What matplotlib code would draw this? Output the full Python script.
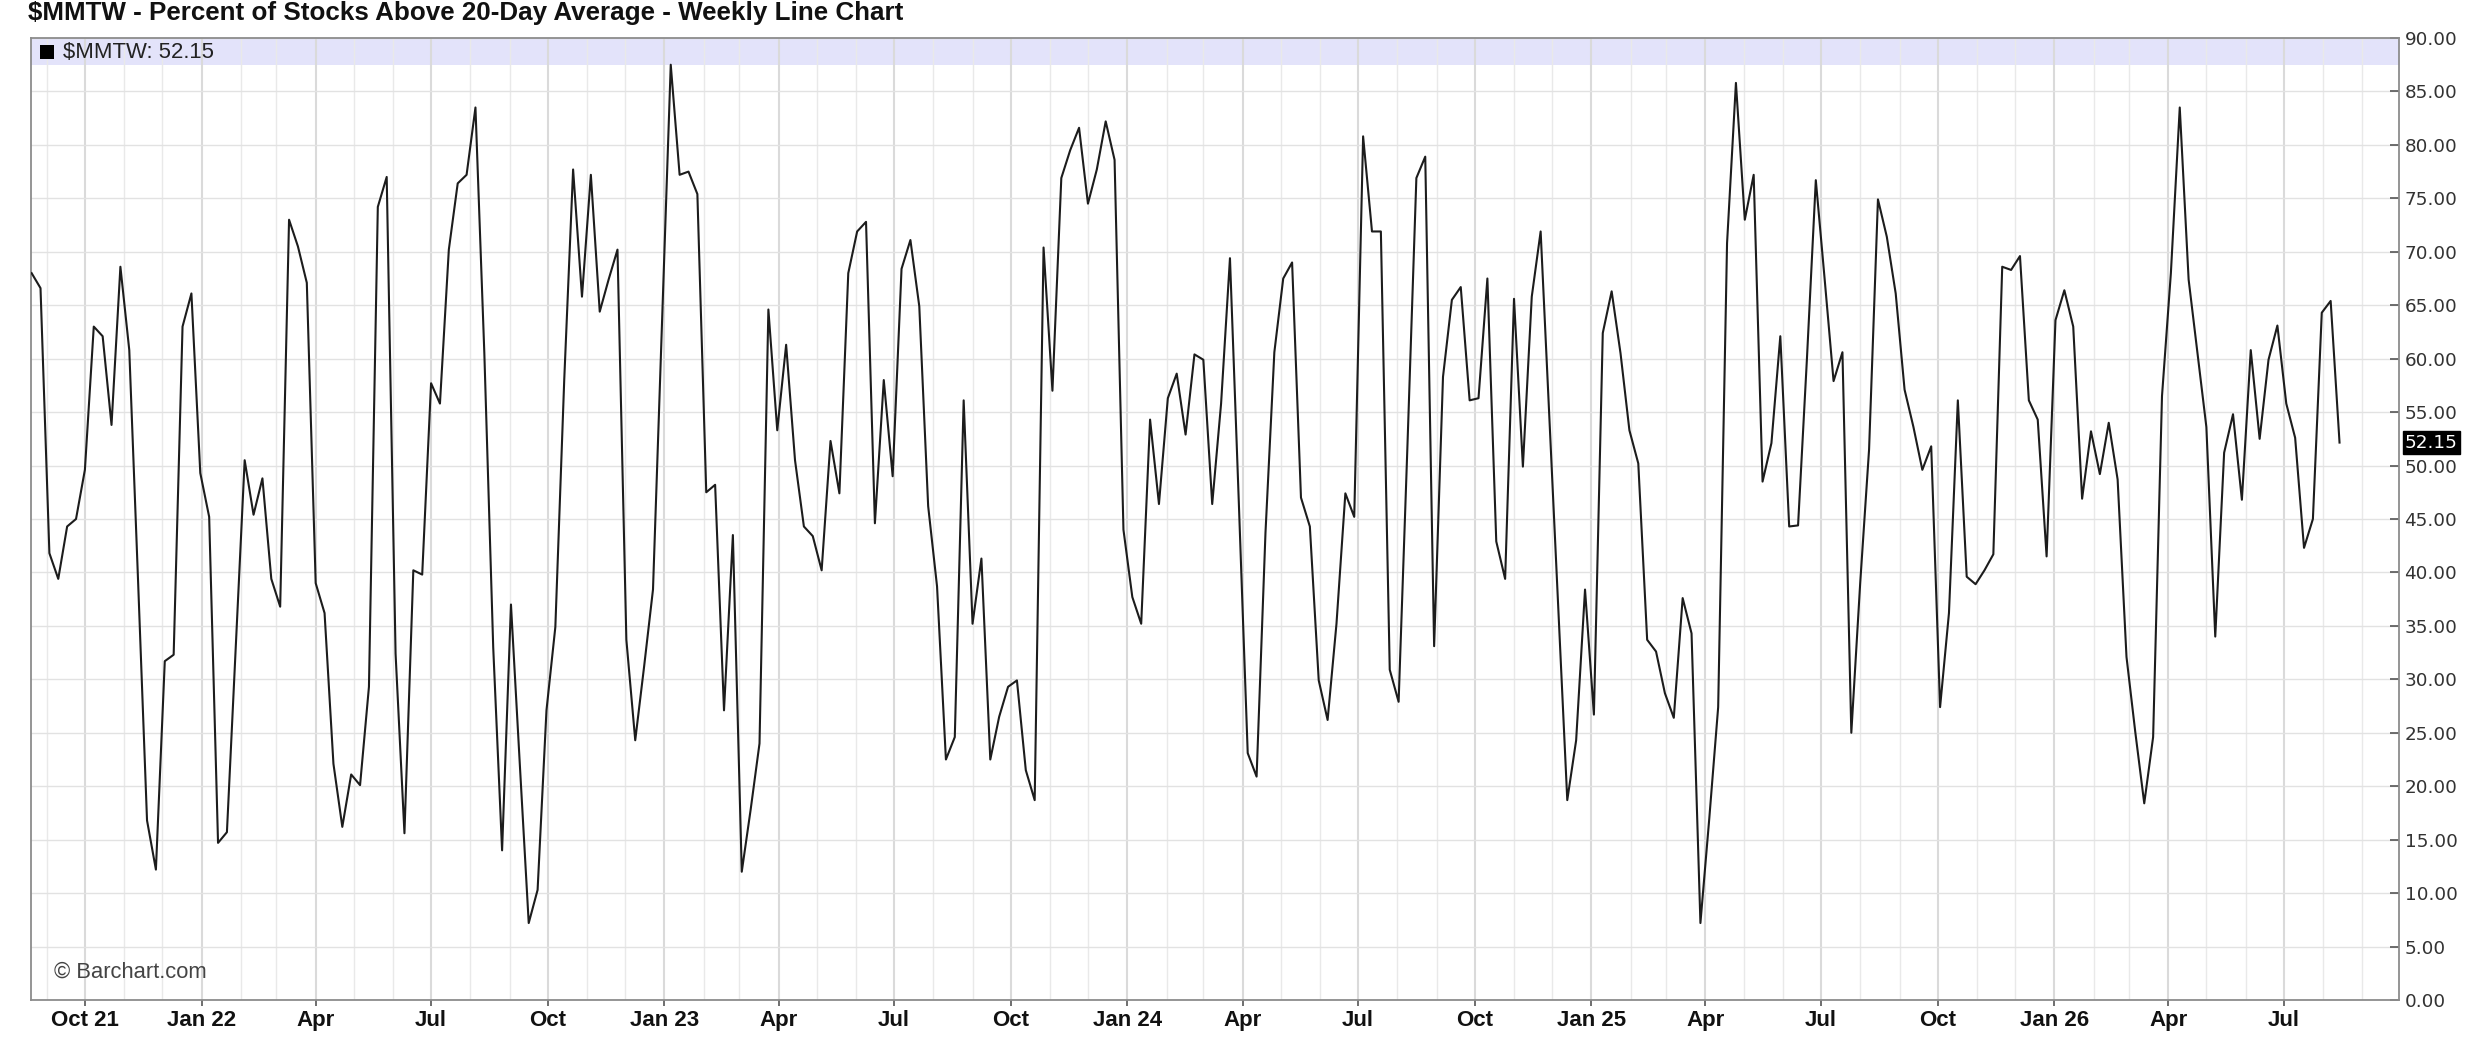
import matplotlib
matplotlib.use("Agg")
import matplotlib.pyplot as plt
import matplotlib.dates as mdates
from matplotlib.ticker import FixedLocator, FixedFormatter, FuncFormatter
from matplotlib.patches import Rectangle
import pandas as pd

# ---------------- data ----------------
symbol = "$MMTW"
title_text = "$MMTW - Percent of Stocks Above 20-Day Average - Weekly Line Chart"
start_date = "2021-08-20"  # first weekly bar

pct_values = [
    68.0, 66.6, 41.8, 39.4, 44.3, 45.0, 49.6, 63.0, 62.1, 53.8,
    68.6, 60.8, 39.0, 16.8, 12.2, 31.7, 32.3, 63.0, 66.1, 49.3,
    45.2, 14.7, 15.7, 33.0, 50.5, 45.4, 48.8, 39.4, 36.8, 73.0,
    70.5, 67.1, 39.0, 36.2, 22.1, 16.2, 21.1, 20.1, 29.3, 74.2,
    77.0, 32.4, 15.6, 40.2, 39.8, 57.7, 55.8, 70.2, 76.4, 77.2,
    83.5, 60.5, 33.0, 14.0, 37.0, 22.0, 7.2, 10.3, 27.1, 34.9,
    58.0, 77.7, 65.8, 77.2, 64.4, 67.4, 70.2, 33.7, 24.3, 31.2,
    38.4, 63.0, 87.5, 77.2, 77.5, 75.4, 47.5, 48.2, 27.1, 43.5,
    12.0, 17.8, 24.0, 64.6, 53.3, 61.3, 50.5, 44.3, 43.4, 40.2,
    52.3, 47.4, 68.0, 71.9, 72.8, 44.6, 58.0, 49.0, 68.4, 71.1,
    64.9, 46.2, 38.7, 22.5, 24.6, 56.1, 35.2, 41.3, 22.5, 26.5,
    29.3, 29.9, 21.5, 18.7, 70.4, 57.0, 76.9, 79.5, 81.6, 74.5,
    77.7, 82.2, 78.6, 44.0, 37.7, 35.2, 54.3, 46.4, 56.3, 58.6,
    52.9, 60.4, 59.9, 46.4, 55.8, 69.4, 46.5, 23.1, 20.9, 43.7,
    60.6, 67.5, 69.0, 47.0, 44.3, 29.9, 26.2, 35.2, 47.4, 45.2,
    80.8, 71.9, 71.9, 30.9, 27.9, 52.0, 76.9, 78.9, 33.1, 58.3,
    65.5, 66.7, 56.1, 56.3, 67.5, 42.9, 39.4, 65.6, 49.9, 65.8,
    71.9, 54.1, 36.4, 18.7, 24.3, 38.4, 26.7, 62.4, 66.3, 60.5,
    53.3, 50.2, 33.7, 32.6, 28.7, 26.4, 37.6, 34.3, 7.2, 17.0,
    27.4, 70.8, 85.8, 73.0, 77.2, 48.5, 52.1, 62.1, 44.3, 44.4,
    60.0, 76.7, 67.4, 57.9, 60.6, 25.0, 39.0, 51.5, 74.9, 71.4,
    66.1, 57.1, 53.6, 49.6, 51.8, 27.4, 36.2, 56.1, 39.6, 38.9,
    40.2, 41.7, 68.6, 68.3, 69.6, 56.1, 54.3, 41.5, 63.6, 66.4,
    63.0, 46.9, 53.2, 49.2, 54.0, 48.7, 32.1, 25.0, 18.4, 24.6,
    56.5, 68.0, 83.5, 67.4, 60.5, 53.6, 34.0, 51.2, 54.8, 46.8,
    60.8, 52.5, 59.9, 63.1, 55.8, 52.6, 42.3, 45.0, 64.3, 65.4,
    52.15,
]

tick_start = "2021-10-01"
tick_end = "2026-07-01"
tick_labels = ["Oct 21", "Jan 22", "Apr", "Jul", "Oct", "Jan 23", "Apr", "Jul",
               "Oct", "Jan 24", "Apr", "Jul", "Oct", "Jan 25", "Apr", "Jul",
               "Oct", "Jan 26", "Apr", "Jul"]
y_ticks = list(range(0, 95, 5))

FONT = "Liberation Sans"

# ---------------- figure ----------------
W, H = 2479, 1042
fig = plt.figure(figsize=(W / 100, H / 100), dpi=100)
fig.patch.set_facecolor("white")
L, R, T, B = 31, 2399, 38, 1000
ax = fig.add_axes([L / W, 1 - B / H, (R - L) / W, (B - T) / H])

dates = pd.date_range(start_date, periods=len(pct_values), freq="7D")
tick_dates = pd.date_range(tick_start, tick_end, freq="QS")

# legend band
ax.axhspan(87.5, 90, color="#e3e3fa", zorder=0.2, lw=0)

ax.plot(dates, pct_values, color="#1c1c1c", lw=1.5, zorder=3)

x0 = dates[0] - pd.Timedelta(days=0.5)
x1 = dates[0] + pd.Timedelta(days=266.7 * 7)
ax.set_xlim(x0, x1)
ax.set_ylim(0, 90)

# x axis
ax.xaxis.set_major_locator(FixedLocator(mdates.date2num(tick_dates)))
ax.xaxis.set_major_formatter(FixedFormatter(tick_labels))
ax.xaxis.set_minor_locator(mdates.MonthLocator())
ax.tick_params(axis="x", which="major", direction="out", length=4, width=1.2,
               color="#555555", pad=3, labelsize=16, labelcolor="#111111")
ax.tick_params(axis="x", which="minor", length=0)
for lab in ax.get_xticklabels():
    lab.set_fontfamily(FONT)
    lab.set_fontweight("bold")

# y axis on right
ax.yaxis.tick_right()
ax.yaxis.set_major_locator(FixedLocator(y_ticks))
ax.yaxis.set_major_formatter(FuncFormatter(lambda v, p: f"{v:.2f}"))
ax.tick_params(axis="y", which="major", direction="in", length=6.5, width=1.2,
               color="#555555", pad=4, labelsize=13.2, labelcolor="#333333")
for lab in ax.get_yticklabels():
    lab.set_fontfamily("DejaVu Sans")

# grid
ax.grid(which="minor", axis="x", color="#e9e9e9", lw=1.0, zorder=0.5)
ax.grid(which="major", axis="x", color="#dadada", lw=1.5, zorder=0.5)
ax.grid(which="major", axis="y", color="#e2e2e2", lw=1.0, zorder=0.5)
ax.set_axisbelow(True)

for s in ax.spines.values():
    s.set_color("#8c8c8c")
    s.set_linewidth(1.3)

# last value tag
last_val = pct_values[-1]
ax.annotate(f"{last_val:.2f}", xy=(1, last_val), xycoords=ax.get_yaxis_transform(),
            xytext=(4.2, 0), textcoords="offset points", va="center", ha="left",
            fontsize=13.2, family="DejaVu Sans", color="white",
            bbox=dict(boxstyle="square,pad=0.12", fc="black", ec="black"),
            annotation_clip=False, zorder=5)

# title
fig.text(28 / W, 1 - 13 / H, title_text, ha="left", va="center",
         fontsize=18.75, fontweight="bold", family=FONT, color="#111111")

# legend entry
fig.add_artist(Rectangle((40 / W, 1 - 59 / H), 14 / W, 14 / H, transform=fig.transFigure,
                         color="black", lw=0))
fig.text(63 / W, 1 - 52 / H, f"{symbol}: {last_val:.2f}", ha="left", va="center",
         fontsize=15.9, family=FONT, color="#222222")

# watermark
fig.text(54 / W, 1 - 972 / H, "\u00a9 Barchart.com", ha="left", va="center",
         fontsize=15.8, family=FONT, color="#444444")

fig.savefig("out.png", dpi=100, facecolor="white")
